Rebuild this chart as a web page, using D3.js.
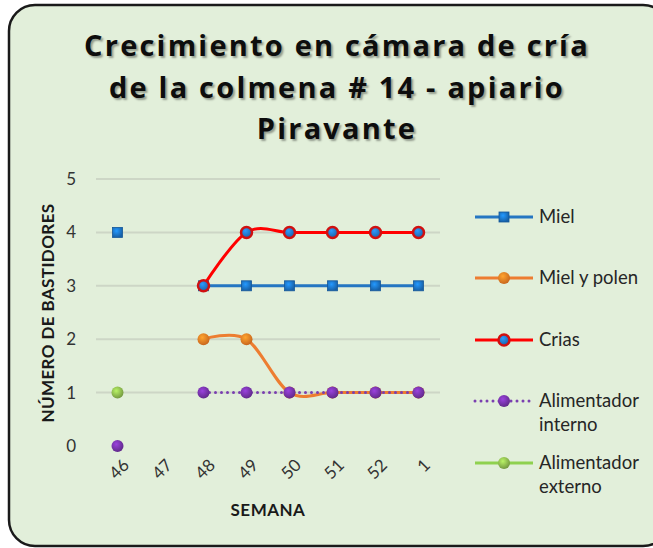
<!DOCTYPE html>
<html>
<head>
<meta charset="utf-8">
<script src="https://cdn.jsdelivr.net/npm/d3@7"></script>
<style>
  body { margin: 0; background: #fff; }
  svg text { font-family: Lato, "Open Sans", sans-serif; }
</style>
</head>
<body>
<div id="chart"></div>
<script>
// semanas y valores (null = sin dato)
const weeks = ["46", "47", "48", "49", "50", "51", "52", "1"];
const miel = [4, null, 3, 3, 3, 3, 3, 3];
const mielPolen = [null, null, 2, 2, 1, 1, 1, 1];
const crias = [null, null, 3, 4, 4, 4, 4, 4];
const alimInterno = [0, null, 1, 1, 1, 1, 1, 1];
const alimExterno = [1, null, null, null, null, null, null, null];
const yTicks = [0, 1, 2, 3, 4, 5];
const titleLines = ["Crecimiento en cámara de cría", "de la colmena # 14 - apiario", "Piravante"];

const series = [
    { name: ["Miel"], values: miel, color: "#2576c2", marker: "square", fill: "#1a6fc0", smooth: false },
    { name: ["Miel y polen"], values: mielPolen, color: "#ed7d31", marker: "circle", fill: "#e87722", smooth: true },
    { name: ["Crias"], values: crias, color: "#ff0000", marker: "ring", fill: "#2070c0", smooth: true },
    { name: ["Alimentador", "interno"], values: alimInterno, color: "#7a3fb0", marker: "circle", fill: "#7030a0", smooth: false, dotted: true },
    { name: ["Alimentador", "externo"], values: alimExterno, color: "#8fd14f", marker: "circle", fill: "#86b04a", smooth: false }
];

const W = 653, H = 548;
const svg = d3.select("#chart").append("svg")
    .attr("width", W)
    .attr("height", H);

const defs = svg.append("defs");
series.forEach((s, i) => {
    const grad = defs.append("radialGradient")
        .attr("id", "g" + i)
        .attr("cx", "40%").attr("cy", "35%").attr("r", "65%");
    grad.append("stop").attr("offset", "0%").attr("stop-color", d3.color(s.fill).brighter(0.9));
    grad.append("stop").attr("offset", "100%").attr("stop-color", d3.color(s.fill).darker(0.4));
});

// fondo
svg.append("rect")
    .attr("x", 9).attr("y", 5)
    .attr("width", 660).attr("height", 541)
    .attr("rx", 26)
    .attr("fill", "#e2efda")
    .attr("stroke", "#1a1a1a")
    .attr("stroke-width", 2.5);

// titulo
svg.append("g").selectAll("text")
    .data(titleLines)
    .enter().append("text")
    .attr("x", 337)
    .attr("y", (d, i) => 56 + i * 41.5)
    .attr("text-anchor", "middle")
    .style("font-family", "'Open Sans', sans-serif")
    .style("font-size", "29px")
    .style("font-weight", "bold")
    .style("letter-spacing", "2.2px")
    .style("fill", "#0d0d0d")
    .style("text-shadow", "2px 2px 2px rgba(0,0,0,0.35)")
    .text(d => d);

const x = d3.scalePoint().domain(weeks).range([96, 440]).padding(0.5);
const y = d3.scaleLinear().domain([0, 5]).range([446, 179]);

// lineas de cuadricula
svg.append("g").selectAll("line")
    .data(yTicks.filter(t => t > 0))
    .enter().append("line")
    .attr("x1", 96).attr("x2", 440)
    .attr("y1", d => y(d)).attr("y2", d => y(d))
    .attr("stroke", "#cdd6c6")
    .attr("stroke-width", 2);

// eje y
const yAxis = svg.append("g")
    .attr("transform", "translate(96,0)")
    .call(d3.axisLeft(y).tickValues(yTicks).tickFormat(d3.format("d")).tickSize(0).tickPadding(20));
yAxis.select(".domain").remove();
yAxis.selectAll("text")
    .style("font-size", "17px")
    .style("fill", "#333")
    .style("font-family", "Lato, sans-serif");

// eje x
const xAxis = svg.append("g")
    .attr("transform", "translate(0,446)")
    .call(d3.axisBottom(x).tickSize(0));
xAxis.select(".domain").remove();
xAxis.selectAll("text")
    .attr("y", 0)
    .attr("dy", "0.35em")
    .attr("text-anchor", "end")
    .attr("transform", "translate(8,16) rotate(-45)")
    .style("font-size", "17px")
    .style("fill", "#333")
    .style("font-family", "Lato, sans-serif");

svg.append("text")
    .attr("x", 268).attr("y", 516)
    .attr("text-anchor", "middle")
    .style("font-size", "17px")
    .style("font-weight", "bold")
    .style("letter-spacing", "0.5px")
    .style("fill", "#1a1a1a")
    .text("SEMANA");

svg.append("text")
    .attr("transform", "translate(54,313) rotate(-90)")
    .attr("text-anchor", "middle")
    .style("font-size", "17px")
    .style("font-weight", "bold")
    .style("letter-spacing", "0.4px")
    .style("fill", "#1a1a1a")
    .text("NÚMERO DE BASTIDORES");

function drawMarker(sel, s, i) {
    if (s.marker === "square") {
        sel.append("rect")
            .attr("x", -5).attr("y", -5).attr("width", 10).attr("height", 10)
            .attr("fill", "url(#g" + i + ")")
            .attr("stroke", "#14589a").attr("stroke-width", 0.8);
    } else if (s.marker === "ring") {
        sel.append("circle").attr("r", 5.5)
            .attr("fill", "url(#g" + i + ")")
            .attr("stroke", "#d01010").attr("stroke-width", 2.5);
    } else {
        sel.append("circle").attr("r", 6)
            .attr("fill", "url(#g" + i + ")");
    }
}

// series
series.forEach((s, i) => {
    const pts = s.values.map((v, j) => ({ w: weeks[j], v: v }));
    const line = d3.line()
        .defined(d => d.v != null)
        .x(d => x(d.w))
        .y(d => y(d.v))
        .curve(s.smooth ? d3.curveCatmullRom.alpha(0) : d3.curveLinear);
    svg.append("path")
        .datum(pts)
        .attr("fill", "none")
        .attr("stroke", s.color)
        .attr("stroke-width", 3)
        .attr("stroke-linecap", s.dotted ? "round" : "butt")
        .attr("stroke-dasharray", s.dotted ? "0,6" : null)
        .attr("d", line);
});

series.forEach((s, i) => {
    const pts = s.values.map((v, j) => ({ w: weeks[j], v: v })).filter(d => d.v != null);
    svg.append("g").selectAll("g")
        .data(pts)
        .enter().append("g")
        .attr("transform", d => `translate(${x(d.w)},${y(d.v)})`)
        .each(function () { drawMarker(d3.select(this), s, i); });
});

// leyenda
const legendY = [217, 278, 340, 401, 463];
const legend = svg.append("g").selectAll("g")
    .data(series)
    .enter().append("g")
    .attr("transform", (d, i) => `translate(475,${legendY[i]})`);

legend.append("line")
    .attr("x1", 0).attr("x2", 58)
    .attr("stroke", d => d.color)
    .attr("stroke-width", 3)
    .attr("stroke-linecap", d => d.dotted ? "round" : "butt")
    .attr("stroke-dasharray", d => d.dotted ? "0,6" : null);

legend.each(function (d, i) {
    const m = d3.select(this).append("g").attr("transform", "translate(29,0)");
    drawMarker(m, d, i);
});

legend.append("text")
    .attr("x", 64)
    .attr("y", 6)
    .style("font-size", "18.5px")
    .style("fill", "#262626")
    .selectAll("tspan")
    .data(d => d.name)
    .enter().append("tspan")
    .attr("x", 64)
    .attr("dy", (d, i) => i === 0 ? 0 : 24)
    .text(d => d);
</script>
</body>
</html>
